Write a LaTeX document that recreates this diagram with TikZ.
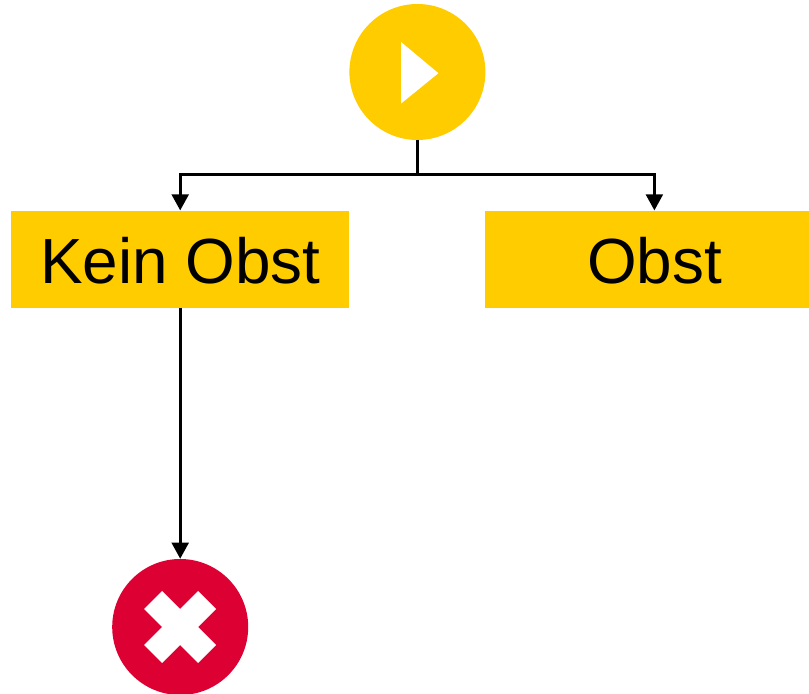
\documentclass[tikz,border=0pt]{standalone}
\usepackage{xcolor}
\usepackage{fontspec}
\setmainfont{Liberation Sans}
\usetikzlibrary{arrows.meta,positioning}
\definecolor{obstyellow}{HTML}{FFCC00}
\definecolor{stopred}{HTML}{DD0033}

\begin{document}
\begin{tikzpicture}[
    box/.style={rectangle, fill=obstyellow, minimum width=8.45cm, minimum height=2.425cm, inner sep=0pt, text height=35pt, text depth=0pt, align=center, font=\fontsize{45.4}{54}\selectfont},
    startcircle/.style={circle, fill=obstyellow, minimum size=3.4cm, inner sep=0pt},
    stopcircle/.style={circle, fill=stopred, minimum size=3.4cm, inner sep=0pt},
    arrow/.style={-{Triangle[length=0.4cm,width=0.42cm]}, line width=1.9pt}
]
    \clip (0,0) rectangle (20.225,17.35);

    % Start with play sign
    \node[startcircle] (start) at (10.435,15.55) {};
    \fill[white] (10.025,16.3) -- (10.96,15.52) -- (10.025,14.76) -- cycle;

    % Two branches
    \node[box] (keinobst) at (4.505,10.87) {Kein Obst};
    \node[box] (obst) at (16.36,10.87) {Obst};
    \coordinate (split) at (10.435,12.98);

    % End with cross
    \node[stopcircle] (stop) at (4.505,1.675) {};
    \fill[white] (4.505,2.125) -- (4.955,2.575) -- (5.405,2.125) -- (4.955,1.675) -- (5.405,1.225) -- (4.955,0.775)
        -- (4.505,1.225) -- (4.055,0.775) -- (3.605,1.225) -- (4.055,1.675) -- (3.605,2.125) -- (4.055,2.575) -- cycle;

    \draw[line width=1.9pt] (start) -- (split);
    \draw[arrow] (split) -| (keinobst);
    \draw[arrow] (split) -| (obst);
    \draw[arrow] (keinobst) -- (stop);

\end{tikzpicture}
\end{document}
